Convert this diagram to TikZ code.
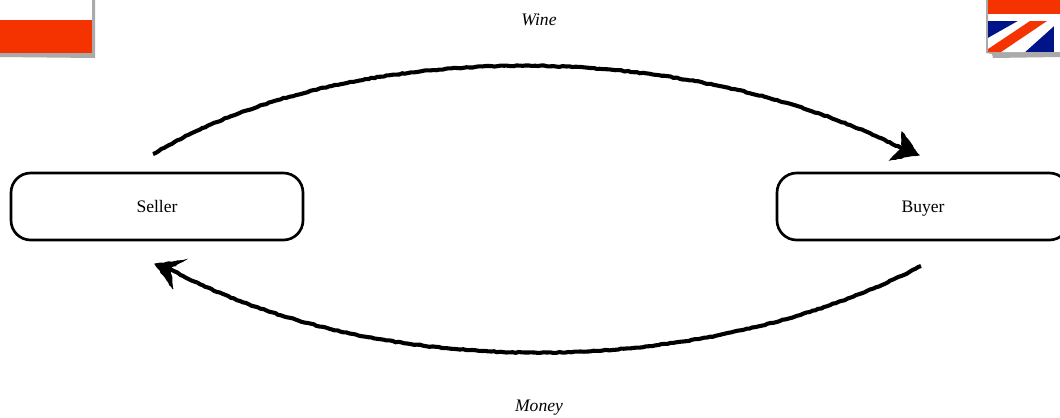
\documentclass[tikz,border=0pt]{standalone}
\usepackage{fontspec}
\setmainfont{Liberation Serif}
\usetikzlibrary{arrows.meta, decorations.pathmorphing, positioning}
\definecolor{flagred}{RGB}{245, 51, 0}
\definecolor{flagblue}{RGB}{0, 20, 137}
\definecolor{shadowgray}{RGB}{170, 170, 170}
\tikzset{
    party/.style={draw=black, line width=1.9pt, rounded corners=14pt, minimum width=292*0.025cm, minimum height=67*0.025cm, inner sep=0pt, text height=10pt, text depth=1.2pt, font=\fontsize{12.5}{15}\selectfont},
    goods/.style={font=\fontsize{12.5}{15}\selectfont\itshape, inner sep=0pt, text height=10pt, text depth=1.2pt},
    rough/.style={line width=2.9pt, decorate, decoration={random steps, segment length=2.2pt, amplitude=0.35pt}},
    roughtip/.style={draw=black, fill=black, line width=0.7pt, decorate, decoration={random steps, segment length=2pt, amplitude=0.4pt}},
}
\begin{document}
\begin{tikzpicture}[x=0.025cm, y=-0.025cm]
    \useasboundingbox (0,0) rectangle (1060,417);
    
    % Flags
    \fill[shadowgray] (0,53) -- (92,51) -- (92,0) -- (95,0) -- (95,58) -- (0,57) -- cycle;
    \fill[flagred] (0,20) rectangle (92,53);
    \fill[shadowgray] (986,0) -- (988,0) -- (988,52) -- (1060,52) -- (1060,57) -- (993,58) -- (992,54) -- (986,53) -- cycle;
    \fill[flagred] (988,0) rectangle (1060,14);
    \fill[flagblue] (988,21) rectangle (1054,52);
    \fill[white] (1018,21) -- (1054,21) -- (1054,26) -- (1025,52) -- (988,52) -- (988,38) -- cycle;
    \fill[flagred] (1030,21) -- (1047,21) -- (1001,52) -- (988,52) -- (988,49) -- cycle;
    
    % Parties
    \node[party] (seller) at (157,206.5) {Seller};
    \node[party] (buyer) at (923,206.5) {Buyer};
    
    % Ends of the curves
    \coordinate (wine start) at (153,154);
    \coordinate (wine end) at (905,150);
    \coordinate (money start) at (921,266);
    \coordinate (money end) at (170,269);
    
    % Flows
    \draw[rough] (wine start) .. controls (350,37) and (684,37) .. (wine end);
    \draw[rough] (money start) .. controls (700,381) and (377,381) .. (money end);
    \fill[roughtip] (919,155) -- (902,132) -- (902,148) -- (890,160) -- cycle;
    \fill[roughtip] (155,264) -- (185,260) -- (170,268) -- (173,289) -- cycle;
    
    % Labels
    \node[goods] (wine) at (539,19) {Wine};
    \node[goods] (money) at (539,405) {Money};
\end{tikzpicture}
\end{document}
